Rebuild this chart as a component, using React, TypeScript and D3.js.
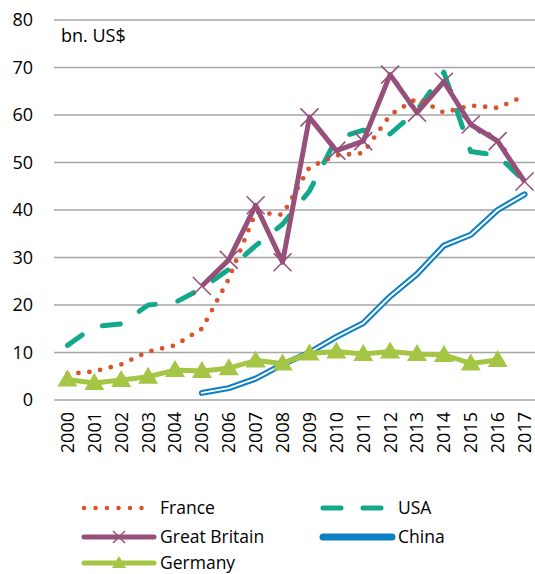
import React from "react";
import * as d3 from "d3";

const years = ["2000","2001","2002","2003","2004","2005","2006","2007","2008","2009","2010","2011","2012","2013","2014","2015","2016","2017"];
const france = [5.5, 6, 7.5, 10.2, 11.5, 15, 25.5, 39.5, 39, 49, 51.5, 52, 60, 63.5, 60.5, 62, 61.5, 64];
const usa = [11.5, 15.5, 16, 20, 20.5, 23.5, 27.5, 32.5, 37, 44, 55, 56.8, 56, 61, 69, 52.3, 51.5, 46];
const gb: (number | null)[] = [null, null, null, null, null, 24, 29.5, 41, 29, 59.5, 52.5, 54.5, 68.5, 60.5, 67, 58, 54.5, 46];
const china: (number | null)[] = [null, null, null, null, null, 1.5, 2.5, 4.5, 7.5, 10, 13.3, 16.2, 21.8, 26.5, 32.5, 34.8, 40, 43.3];
const germany: (number | null)[] = [4.3, 3.6, 4.2, 4.9, 6.3, 6.1, 6.7, 8.3, 7.7, 9.8, 10.2, 9.7, 10.2, 9.7, 9.5, 7.7, 8.4, null];
const yTicks = [0, 10, 20, 30, 40, 50, 60, 70, 80];

const FONT = "'Open Sans', Lato, sans-serif";
const C_FR = "#d9532b";
const C_US = "#12a98b";
const C_GB = "#96507a";
const C_CN = "#0d80c4";
const C_DE = "#a5c545";

const TRI = "M0,-10L10,7L-10,7Z";

export default function App() {
  const W = 535, H = 574;
  const x = d3.scaleBand<string>().domain(years).range([54, 538]);
  const y = d3.scaleLinear().domain([0, 80]).range([400, 20]);
  const cx = (i: number) => (x(years[i]) as number) + x.bandwidth() / 2;
  const line = d3.line<number | null>()
    .defined((d) => d != null)
    .x((_, i) => cx(i))
    .y((d) => y(d as number));

  return (
    <svg width={W} height={H} style={{ position: "absolute", left: 0, top: 0 }}>
      <rect width={W} height={H} fill="#fff" />
      {yTicks.map((t) => (
        <g key={t}>
          <line x1={54} x2={535} y1={y(t)} y2={y(t)} stroke="#a6a6a6" strokeWidth={1.5} />
          <text x={33} y={y(t)} dy="0.36em" textAnchor="end" fontFamily={FONT} fontSize={18} fill="#000">{t}</text>
        </g>
      ))}
      <text x={61} y={42} fontFamily={FONT} fontSize={18} fill="#000">bn. US$</text>
      {years.map((yr, i) => (
        <text key={yr} transform={`translate(${cx(i)},${412}) rotate(-90)`} textAnchor="end" dy="0.36em"
          fontFamily={FONT} fontSize={18} fill="#000">{yr}</text>
      ))}
      {/* USA */}
      <path d={line(usa) as string} fill="none" stroke={C_US} strokeWidth={5} strokeDasharray="18 23" strokeLinecap="round" strokeLinejoin="round" />
      {/* France */}
      <path d={line(france) as string} fill="none" stroke={C_FR} strokeWidth={4.8} strokeDasharray="0 11" strokeLinecap="round" />
      {/* China double line */}
      <path d={line(china) as string} fill="none" stroke={C_CN} strokeWidth={6} strokeLinejoin="round" strokeLinecap="round" />
      <path d={line(china) as string} fill="none" stroke="#fff" strokeWidth={2} strokeLinejoin="round" strokeLinecap="round" />
      {/* Germany */}
      <path d={line(germany) as string} fill="none" stroke={C_DE} strokeWidth={5} strokeLinejoin="round" />
      {germany.map((v, i) => v == null ? null : (
        <path key={i} d={TRI} transform={`translate(${cx(i)},${y(v)})`} fill={C_DE} />
      ))}
      {/* Great Britain */}
      <path d={line(gb) as string} fill="none" stroke={C_GB} strokeWidth={5} strokeLinejoin="round" />
      {gb.map((v, i) => v == null ? null : (
        <g key={i} transform={`translate(${cx(i)},${y(v)})`} stroke={C_GB} strokeWidth={1.5}>
          <line x1={-9} y1={-9} x2={9} y2={9} />
          <line x1={-9} y1={9} x2={9} y2={-9} />
        </g>
      ))}
      {/* Legend */}
      <g fontFamily={FONT} fontSize={17.5} fill="#000">
        <line x1={84} x2={148} y1={508} y2={508} stroke={C_FR} strokeWidth={4.5} strokeDasharray="0 11.5" strokeLinecap="round" />
        <text x={160} y={508} dy="0.36em">France</text>
        <line x1={323} x2={382} y1={508} y2={508} stroke={C_US} strokeWidth={5} strokeDasharray="18 22" strokeLinecap="round" />
        <text x={398} y={508} dy="0.36em">USA</text>
        <line x1={84} x2={154} y1={537} y2={537} stroke={C_GB} strokeWidth={5} strokeLinecap="round" />
        <g transform="translate(119,537)" stroke={C_GB} strokeWidth={1.5}>
          <line x1={-6} y1={-6} x2={6} y2={6} />
          <line x1={-6} y1={6} x2={6} y2={-6} />
        </g>
        <text x={160} y={537} dy="0.36em">Great Britain</text>
        <line x1={323} x2={392} y1={537} y2={537} stroke={C_CN} strokeWidth={7} strokeLinecap="round" />
        <text x={398} y={537} dy="0.36em">China</text>
        <line x1={84} x2={154} y1={563} y2={563} stroke={C_DE} strokeWidth={5} strokeLinecap="round" />
        <path d={TRI} transform="translate(119,563) scale(0.7)" fill={C_DE} />
        <text x={160} y={563} dy="0.34em">Germany</text>
      </g>
    </svg>
  );
}
